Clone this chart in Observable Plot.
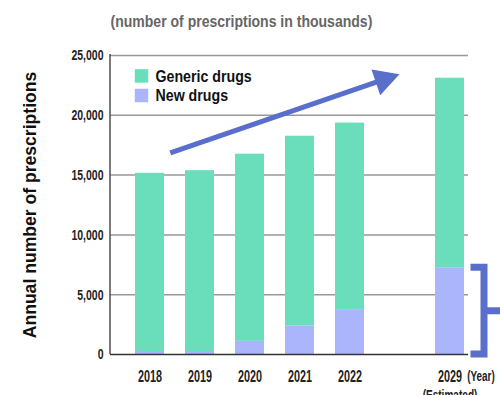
<!DOCTYPE html>
<html>
<head>
<meta charset="utf-8">
<script src="https://cdn.jsdelivr.net/npm/d3@7"></script>
<script src="https://cdn.jsdelivr.net/npm/@observablehq/plot@0.6"></script>
<style>
  html, body { margin: 0; padding: 0; background: #fff; }
  #chart svg { display: block; }
</style>
</head>
<body>
<div id="chart"></div>
<script>
// ---- data ----
const years = ["2018", "2019", "2020", "2021", "2022", "2029"];
const xSlots = ["2018", "2019", "2020", "2021", "2022", "", "2029"]; // blank slot before the estimate
const newDrugs = [250, 250, 1100, 2400, 3750, 7250];
const genericDrugs = [14900, 15120, 15650, 15850, 15600, 15850];
const seriesNames = ["New drugs", "Generic drugs"];
const legendNames = ["Generic drugs", "New drugs"];
const seriesColors = ["#ABB5FC", "#6ADEBB"];
const yTicks = [0, 5000, 10000, 15000, 20000, 25000];
const titleText = "(number of prescriptions in thousands)";
const yTitle = "Annual number of prescriptions";
const yearUnit = "(Year)";
const estimatedNote = "(Estimated)";
// trend arrow: from the 2018 slot to the blank slot
const arrowFrom = {slot: "2018", value: 16220};
const arrowTo = {slot: "", value: 23390};
const accent = "#5A6ECB";

// ---- table for the library ----
const rows = [];
years.forEach((yr, i) => {
  rows.push({year: yr, series: seriesNames[0], value: newDrugs[i]});
  rows.push({year: yr, series: seriesNames[1], value: genericDrugs[i]});
});
const colorOf = Object.fromEntries(seriesNames.map((s, i) => [s, seriesColors[i]]));

const FONT = "'Liberation Sans', Arial, Helvetica, sans-serif";
// horizontal condensing (mimics a condensed bold face)
const squeezeByText = new Map([
  [titleText, 0.825],
  [yTitle, 0.95],
  [legendNames[0], 0.86],
  [legendNames[1], 0.86],
  [yearUnit, 0.66],
  [estimatedNote, 0.67]
]);
const squeezeAxis = {"y-axis": 0.70, "x-axis": 0.675};

function annotations(index, scales, values, dims) {
  const x = scales.x, y = scales.y;
  const bw = typeof x.bandwidth === "function" ? x.bandwidth() : (x.bandwidth || 0);
  const cx = v => x(v) + bw / 2;
  const g = d3.create("svg:g");
  // left axis line
  g.append("line")
    .attr("x1", dims.marginLeft).attr("x2", dims.marginLeft)
    .attr("y1", dims.marginTop - 1).attr("y2", dims.height - dims.marginBottom)
    .attr("stroke", "#333").attr("stroke-width", 1.3);
  // trend arrow
  const p0 = [cx(arrowFrom.slot), y(arrowFrom.value)];
  const p1 = [cx(arrowTo.slot), y(arrowTo.value)];
  const dx = p1[0] - p0[0], dy = p1[1] - p0[1];
  const len = Math.hypot(dx, dy);
  const u = [dx / len, dy / len], n = [-u[1], u[0]];
  const insetStart = 22, headLen = 25, headHalf = 13.5;
  const s = [p0[0] + u[0] * insetStart, p0[1] + u[1] * insetStart];
  const b = [p1[0] - u[0] * headLen, p1[1] - u[1] * headLen];
  g.append("line")
    .attr("x1", s[0]).attr("y1", s[1]).attr("x2", b[0] + u[0] * 2).attr("y2", b[1] + u[1] * 2)
    .attr("stroke", accent).attr("stroke-width", 5);
  g.append("path")
    .attr("d", `M${p1[0]},${p1[1]}L${b[0] + n[0] * headHalf},${b[1] + n[1] * headHalf}L${b[0] - n[0] * headHalf},${b[1] - n[1] * headHalf}Z`)
    .attr("fill", accent);
  // bracket around the 2029 new-drug share
  const iLast = years.length - 1;
  const c = cx(years[iLast]);
  const yTop = y(newDrugs[iLast]), yBot = y(0), yMid = y(newDrugs[iLast] / 2);
  const xl = c + 21, xv = c + 34.5;
  g.append("path")
    .attr("d", `M${xl},${yTop}H${xv}V${yBot}H${xl}M${xv},${yMid}H${dims.width}`)
    .attr("fill", "none").attr("stroke", accent).attr("stroke-width", 7)
    .attr("stroke-linejoin", "miter").attr("stroke-linecap", "butt");
  return g.node();
}

const legendMarks = legendNames.flatMap((name, i) => [
  Plot.dot([name], {frameAnchor: "top-left", dx: 31, dy: 20.4 + i * 19.6, symbol: "square", r: 7.6, fill: colorOf[name], stroke: null}),
  Plot.text([name], {frameAnchor: "top-left", dx: 45, dy: 21 + i * 19.6, lineAnchor: "middle", text: d => d, textAnchor: "start", fontSize: 16.5, fill: "#111"})
]);

const chart = Plot.plot({
  width: 500,
  height: 395,
  marginTop: 55,
  marginBottom: 41,
  marginLeft: 110,
  marginRight: 32,
  style: {fontFamily: FONT, fontSize: "15px", fontWeight: "bold", color: "#222", background: "#fff"},
  x: {type: "band", domain: xSlots, paddingInner: 0.42, paddingOuter: 0.29, align: 0.86},
  y: {domain: [0, 25000]},
  color: {domain: seriesNames, range: seriesColors},
  marks: [
    Plot.gridY(yTicks.filter(d => d > 0), {stroke: "#999", strokeOpacity: 1, strokeWidth: 1.5}),
    Plot.barY(rows, {x: "year", y: "value", fill: "series"}),
    Plot.ruleY([0], {stroke: "#333", strokeWidth: 1.5}),
    Plot.axisY(yTicks, {tickSize: 0, tickPadding: 7, tickFormat: d3.format(","), label: null, fontSize: 15}),
    Plot.axisX(years, {tickSize: 0, tickPadding: 16, label: null, fontSize: 16}),
    Plot.text([yearUnit], {x: () => years[years.length - 1], frameAnchor: "bottom", lineAnchor: "middle", dx: 31, dy: 22, text: d => d, fontSize: 15}),
    Plot.text([estimatedNote], {x: () => years[years.length - 1], frameAnchor: "bottom", lineAnchor: "middle", dx: 0, dy: 41, text: d => d, fontSize: 15}),
    Plot.text([titleText], {frameAnchor: "top-left", lineAnchor: "middle", dy: -34, textAnchor: "start", text: d => d, fontSize: 17, fill: "#666"}),
    Plot.text([yTitle], {frameAnchor: "left", dx: -80, rotate: -90, textAnchor: "middle", lineAnchor: "middle", text: d => d, fontSize: 18.5, fill: "#111"}),
    ...legendMarks,
    annotations
  ]
});
document.getElementById("chart").append(chart);

// condense the text horizontally, keeping it as real text
function condense(t, k) {
  const w = t.getComputedTextLength();
  if (w > 0) {
    t.setAttribute("textLength", (w * k).toFixed(2));
    t.setAttribute("lengthAdjust", "spacingAndGlyphs");
  }
}
chart.querySelectorAll("text").forEach(t => {
  const k = squeezeByText.get(t.textContent);
  if (k) condense(t, k);
});
for (const [label, k] of Object.entries(squeezeAxis)) {
  chart.querySelectorAll(`g[aria-label^="${label}"] text`).forEach(t => condense(t, k));
}
</script>
</body>
</html>
